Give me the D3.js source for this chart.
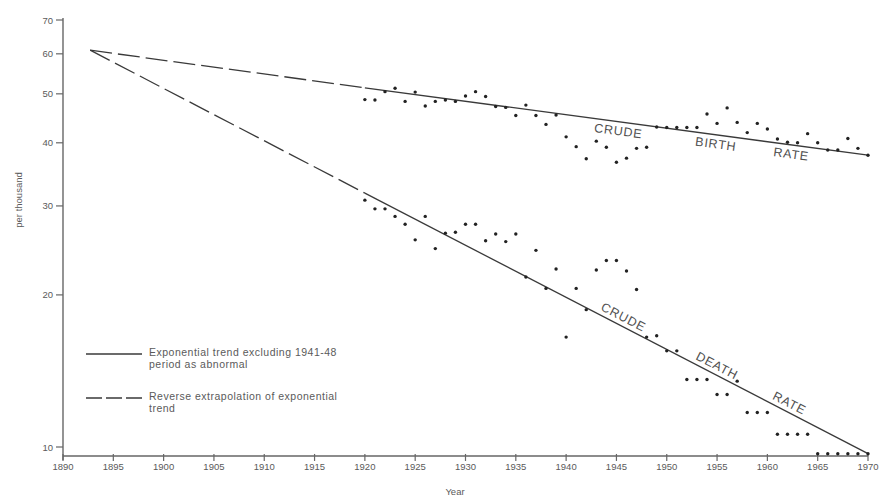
<!DOCTYPE html>
<html><head><meta charset="utf-8">
<script src="https://cdn.jsdelivr.net/npm/d3@7"></script>
<style>
body{margin:0;background:#fff;}
svg{display:block;font-family:"Liberation Sans",Arial,sans-serif;}
</style></head>
<body><svg id="chart" width="889" height="501"></svg>
<script>
const years = d3.range(1920, 1971);
const birthRate = [48.7,48.6,50.5,51.3,48.3,50.4,47.3,48.3,48.6,48.3,
  49.5,50.5,49.4,47.2,47.0,45.3,47.5,45.3,43.5,45.4,
  41.1,39.3,37.2,40.3,39.2,36.6,37.3,39.0,39.2,43.0,
  42.9,42.9,42.9,42.9,45.6,43.7,46.9,43.9,41.9,43.7,
  42.6,40.7,40.1,40.0,41.7,40.0,38.7,38.7,40.8,39.0,37.8];
const deathRate = [30.8,29.6,29.6,28.6,27.6,25.7,28.6,24.7,26.5,26.6,
  27.6,27.6,25.6,26.4,25.5,26.4,21.7,24.5,20.6,22.5,
  16.5,20.6,18.7,22.4,23.4,23.4,22.3,20.5,16.5,16.6,
  15.5,15.5,13.6,13.6,13.6,12.7,12.7,13.5,11.7,11.7,
  11.7,10.6,10.6,10.6,10.6,9.7,9.7,9.7,9.7,9.7,9.7];
// trend lines: [year, value]; dashed extrapolation then solid fitted trend
const trendYears = [1892.7, 1920, 1970];
const birthTrend = [61, 51.4, 37.8];
const deathTrend = [61, 31.8, 9.7];
const xTicks = d3.range(1890, 1971, 5);
const yTicks = [10, 20, 30, 40, 50, 60, 70];
const rateLabels = [
  {series:"birth", text:"CRUDE", year:1945.3, side:1},
  {series:"birth", text:"BIRTH", year:1955, side:1},
  {series:"birth", text:"RATE", year:1962.5, side:1},
  {series:"death", text:"CRUDE", year:1945.3, side:-1},
  {series:"death", text:"DEATH", year:1954.6, side:-1},
  {series:"death", text:"RATE", year:1961.8, side:-1}
];
const legendItems = [
  {lines:["Exponential trend excluding 1941-48","period as abnormal"], dash:null},
  {lines:["Reverse extrapolation of exponential","trend"], dash:"16,4"}
];

const svg = d3.select("#chart");
const x = d3.scaleLinear().domain([1890, 1970]).range([63, 868]);
const y = d3.scaleLog().domain([10, 70]).range([447, 20]);
const axisY = y(9.6);
const ink = "#3a3a3a", txt = "#5a5a5a";

// axes lines
svg.append("line").attr("x1", x(1890)).attr("x2", x(1890)).attr("y1", y(70) - 2).attr("y2", axisY + 4)
  .attr("stroke", "#666").attr("stroke-width", 1.4);
svg.append("line").attr("x1", x(1890)).attr("x2", x(1970)).attr("y1", axisY).attr("y2", axisY)
  .attr("stroke", "#666").attr("stroke-width", 1.4);

// x ticks
const xg = svg.append("g");
xTicks.forEach(t => {
  xg.append("line").attr("x1", x(t)).attr("x2", x(t)).attr("y1", axisY - 2).attr("y2", axisY + 5)
    .attr("stroke", "#666").attr("stroke-width", 1.2);
  xg.append("text").attr("x", x(t)).attr("y", axisY + 14).attr("text-anchor", "middle")
    .attr("font-size", 9.5).attr("fill", txt).text(t);
});
// y ticks
const yg = svg.append("g");
yTicks.forEach(t => {
  yg.append("line").attr("x1", x(1890) - 7).attr("x2", x(1890)).attr("y1", y(t)).attr("y2", y(t))
    .attr("stroke", "#666").attr("stroke-width", 1.2);
  yg.append("text").attr("x", x(1890) - 10).attr("y", y(t) + 3.5).attr("text-anchor", "end")
    .attr("font-size", 9.5).attr("fill", txt).text(t);
});
svg.append("text").attr("x", 455).attr("y", 495).attr("text-anchor", "middle")
  .attr("font-size", 9.5).attr("fill", txt).text("Year");
svg.append("text").attr("transform", "translate(22,200) rotate(-90)").attr("text-anchor", "middle")
  .attr("font-size", 9.5).attr("fill", txt).text("per thousand");

// trend lines
function drawTrend(vals) {
  svg.append("line").attr("x1", x(trendYears[0])).attr("y1", y(vals[0]))
    .attr("x2", x(trendYears[1])).attr("y2", y(vals[1]))
    .attr("stroke", ink).attr("stroke-width", 1.3).attr("stroke-dasharray", "22,6");
  svg.append("line").attr("x1", x(trendYears[1])).attr("y1", y(vals[1]))
    .attr("x2", x(trendYears[2])).attr("y2", y(vals[2]))
    .attr("stroke", ink).attr("stroke-width", 1.3);
}
drawTrend(birthTrend);
drawTrend(deathTrend);

// dots
svg.append("g").selectAll("circle.b").data(years).join("circle")
  .attr("cx", (d) => x(d)).attr("cy", (d, i) => y(birthRate[i])).attr("r", 1.7).attr("fill", "#222");
svg.append("g").selectAll("circle.d").data(years).join("circle")
  .attr("cx", (d) => x(d)).attr("cy", (d, i) => y(deathRate[i])).attr("r", 1.7).attr("fill", "#222");

// rate labels along trend lines
function trendAt(vals, yr) {
  const t = (yr - trendYears[1]) / (trendYears[2] - trendYears[1]);
  return Math.exp(Math.log(vals[1]) + t * (Math.log(vals[2]) - Math.log(vals[1])));
}
rateLabels.forEach(l => {
  const vals = l.series === "birth" ? birthTrend : deathTrend;
  const px = x(l.year), py = y(trendAt(vals, l.year));
  const dx = x(trendYears[2]) - x(trendYears[1]);
  const dy = y(vals[2]) - y(vals[1]);
  const ang = Math.atan2(dy, dx);
  const off = 9 * l.side;
  const ox = px - Math.sin(ang) * off, oy = py + Math.cos(ang) * off;
  svg.append("text").attr("transform", `translate(${ox},${oy}) rotate(${ang * 180 / Math.PI})`)
    .attr("text-anchor", "middle").attr("dy", "0.35em").attr("font-size", 12.5)
    .attr("letter-spacing", 0.8).attr("fill", "#505050").text(l.text);
});

// legend
const lg = svg.append("g");
legendItems.forEach((it, i) => {
  const ly = 354 + i * 44;
  lg.append("line").attr("x1", 86).attr("x2", 142).attr("y1", ly).attr("y2", ly)
    .attr("stroke", ink).attr("stroke-width", 1.3).attr("stroke-dasharray", it.dash);
  it.lines.forEach((s, j) => {
    lg.append("text").attr("x", 149).attr("y", ly + 2 + j * 12).attr("font-size", 10.5)
      .attr("letter-spacing", 0.5).attr("fill", txt).text(s);
  });
});
</script></body></html>
